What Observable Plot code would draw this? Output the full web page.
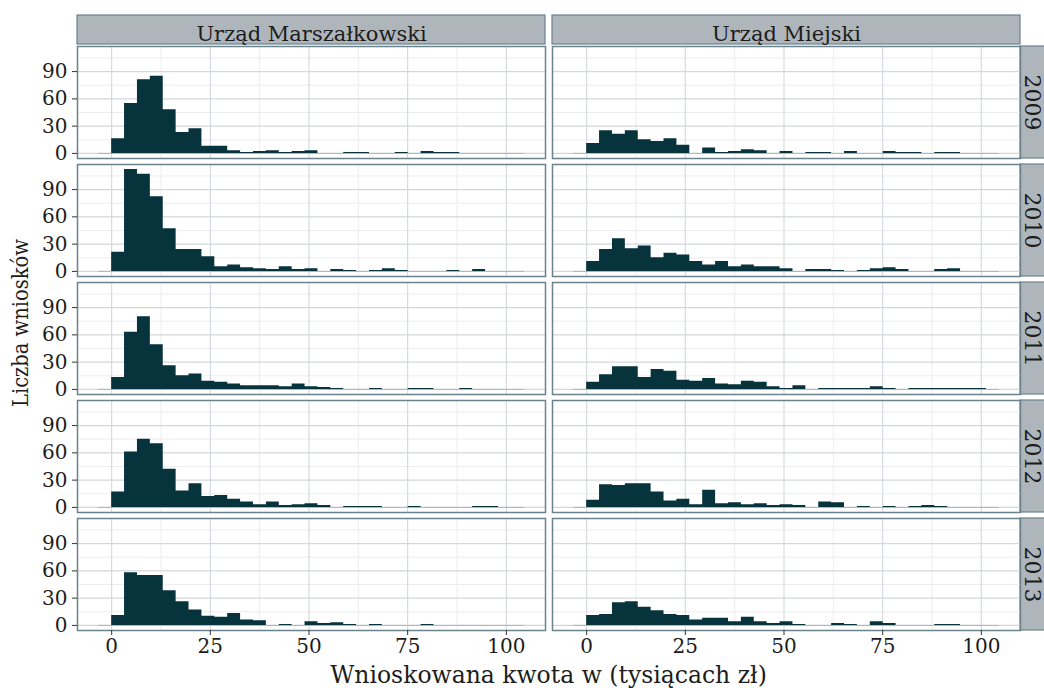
<!DOCTYPE html>
<html lang="pl">
<head>
<meta charset="utf-8">
<script src="https://cdn.jsdelivr.net/npm/d3@7"></script>
<script src="https://cdn.jsdelivr.net/npm/@observablehq/plot@0.6"></script>
<style>
  html, body { margin: 0; padding: 0; background: #fff; }
  #chart svg { display: block; }
</style>
</head>
<body>
<div id="chart"></div>
<script>
// Facets: applying office (columns) and year (rows)
const offices = ["Urząd Marszałkowski", "Urząd Miejski"];
const years = ["2009", "2010", "2011", "2012", "2013"];

// Histogram bins: width in thousands of złoty, first bin starts at 0
const binWidth = 3.2667;
const xTicks = [0, 25, 50, 75, 100];
const yTicks = [0, 30, 60, 90];

// Number of applications per bin
const marszalkowski2009 = [16, 55, 81, 85, 48, 23, 27, 8, 8, 3, 1, 2, 3, 1, 2, 3, 0, 0, 1, 1, 0, 0, 1, 0, 2, 1, 1, 0, 0, 0, 0];
const marszalkowski2010 = [21, 112, 107, 82, 47, 24, 24, 16, 5, 7, 4, 3, 2, 5, 2, 3, 0, 2, 1, 0, 1, 3, 1, 0, 0, 0, 1, 0, 2, 0, 0];
const marszalkowski2011 = [13, 63, 80, 49, 26, 15, 17, 9, 8, 6, 4, 4, 4, 3, 6, 3, 2, 1, 0, 0, 1, 0, 0, 1, 1, 0, 0, 1, 0, 0, 0];
const marszalkowski2012 = [17, 61, 75, 70, 42, 18, 26, 12, 13, 9, 6, 3, 6, 2, 3, 4, 2, 0, 1, 1, 1, 0, 0, 1, 0, 0, 0, 0, 1, 1, 0];
const marszalkowski2013 = [11, 58, 55, 55, 38, 26, 17, 10, 9, 13, 6, 5, 0, 1, 0, 4, 2, 3, 1, 0, 1, 0, 0, 0, 1, 0, 0, 0, 0, 0, 0];

const miejski2009 = [11, 25, 21, 25, 15, 13, 16, 9, 0, 6, 1, 2, 4, 3, 0, 2, 0, 1, 1, 0, 2, 0, 0, 2, 1, 1, 0, 1, 1, 0, 0];
const miejski2010 = [11, 24, 36, 25, 28, 15, 20, 18, 11, 7, 11, 5, 7, 5, 5, 3, 0, 2, 2, 1, 0, 1, 3, 4, 2, 0, 0, 2, 3, 0, 0];
const miejski2011 = [8, 16, 25, 25, 13, 22, 20, 10, 9, 12, 6, 5, 9, 8, 3, 1, 4, 0, 1, 1, 1, 1, 3, 1, 0, 1, 1, 1, 1, 1, 1];
const miejski2012 = [8, 25, 24, 26, 26, 17, 7, 9, 3, 19, 4, 5, 3, 4, 2, 3, 2, 0, 6, 5, 0, 1, 0, 1, 0, 1, 2, 1, 0, 0, 0];
const miejski2013 = [11, 12, 25, 26, 20, 16, 12, 11, 6, 8, 8, 4, 9, 4, 2, 4, 1, 0, 0, 2, 1, 0, 4, 2, 0, 0, 0, 1, 1, 0, 0];

const series = {
  "Urząd Marszałkowski": {
    "2009": marszalkowski2009, "2010": marszalkowski2010, "2011": marszalkowski2011,
    "2012": marszalkowski2012, "2013": marszalkowski2013
  },
  "Urząd Miejski": {
    "2009": miejski2009, "2010": miejski2010, "2011": miejski2011,
    "2012": miejski2012, "2013": miejski2013
  }
};

// Step outline per facet: one point at each bin's left edge, closed at the last right edge
const steps = [];
for (const office of offices) {
  for (const year of years) {
    const counts = series[office][year];
    counts.forEach((n, k) => steps.push({office, year, x: k * binWidth, n}));
    steps.push({office, year, x: counts.length * binWidth, n: 0});
  }
}

// Binning range (one empty bin on each side), then 5% expansion
const nBins = d3.max(offices, o => d3.max(years, y => series[o][y].length));
const lo = -binWidth;
const hi = (nBins + 1) * binWidth;
const xPad = 0.05 * (hi - lo);
const yMax = d3.max(steps, d => d.n);
const yPad = 0.05 * yMax;

const xMinor = d3.range(xTicks.length - 1).map(i => (xTicks[i] + xTicks[i + 1]) / 2);
const yMinor = yTicks.map(t => t + (yTicks[1] - yTicks[0]) / 2);

const ink = "#07333c";
const border = "#6b838d";
const stripFill = "#aeb5bb";
const textColor = "#1c1c1c";
const font = "'DejaVu Serif', serif";
const stripTop = 15;

const plot = Plot.plot({
  width: 1044,
  height: 688,
  marginTop: 44,
  marginRight: 24,
  marginBottom: 57,
  marginLeft: 77,
  style: {fontFamily: font, fontSize: "20px", color: textColor, background: "#fff"},
  fx: {domain: offices, paddingInner: 7 / 475, paddingOuter: 0, label: null},
  fy: {domain: years, paddingInner: 0.0514, paddingOuter: 0, label: null},
  x: {domain: [lo - xPad, hi + xPad]},
  y: {domain: [-yPad, yMax + yPad]},
  marks: [
    Plot.gridX(xMinor, {stroke: "#ededf0", strokeOpacity: 1, strokeWidth: 1}),
    Plot.gridY(yMinor, {stroke: "#ededf0", strokeOpacity: 1, strokeWidth: 1}),
    Plot.gridX(xTicks, {stroke: "#d3d7db", strokeOpacity: 1, strokeWidth: 1.1}),
    Plot.gridY(yTicks, {stroke: "#d3d7db", strokeOpacity: 1, strokeWidth: 1.1}),
    Plot.ruleY([0], {x1: lo, x2: hi, stroke: "#a3abb0", strokeWidth: 0.8}),
    Plot.areaY(steps, {
      x: "x", y: "n", fx: "office", fy: "year",
      curve: "step-after", fill: ink
    }),
    Plot.frame({stroke: border, strokeWidth: 1.5}),
    Plot.axisX(xTicks, {anchor: "bottom", tickSize: 5, tickPadding: 3, label: null, fontSize: 20, stroke: "#333"}),
    Plot.axisY(yTicks, {anchor: "left", tickSize: 5, tickPadding: 5, label: null, fontSize: 20, stroke: "#333"}),
    Plot.axisFx({anchor: "top", tickSize: 0, tickPadding: 6, label: null, fontSize: 21}),
    Plot.axisFy({anchor: "right", tickSize: 0, tickPadding: 12, rotate: 90, textAnchor: "middle", lineAnchor: "middle", label: null, fontSize: 22})
  ]
});

// Strip backgrounds behind the facet labels
const svg = d3.select(plot);
const fx = plot.scale("fx");
const fy = plot.scale("fy");
const strips = svg.insert("g", ":first-child");
for (const o of offices) {
  strips.append("rect")
    .attr("x", fx.apply(o)).attr("y", stripTop)
    .attr("width", fx.bandwidth).attr("height", fy.range[0] - stripTop)
    .attr("fill", stripFill).attr("stroke", border).attr("stroke-width", 1.2);
}
const right = fx.apply(offices[offices.length - 1]) + fx.bandwidth;
for (const y of years) {
  strips.append("rect")
    .attr("x", right).attr("y", fy.apply(y))
    .attr("width", 30).attr("height", fy.bandwidth)
    .attr("fill", stripFill).attr("stroke", border).attr("stroke-width", 1.2);
}

// Axis titles: x centred under the panels, y centred on strips + panels
const xMid = (fx.range[0] + fx.range[1]) / 2;
const yMid = (stripTop + fy.range[1]) / 2;
svg.append("text")
  .attr("x", xMid).attr("y", 683)
  .attr("text-anchor", "middle")
  .attr("font-family", font).attr("font-size", 23.5).attr("fill", textColor)
  .text("Wnioskowana kwota w (tysiącach zł)");
svg.append("text")
  .attr("transform", `translate(28,${yMid}) rotate(-90)`)
  .attr("text-anchor", "middle")
  .attr("font-family", font).attr("font-size", 22).attr("fill", textColor)
  .attr("textLength", 168).attr("lengthAdjust", "spacingAndGlyphs")
  .text("Liczba wniosków");

document.getElementById("chart").appendChild(plot);
</script>
</body>
</html>
